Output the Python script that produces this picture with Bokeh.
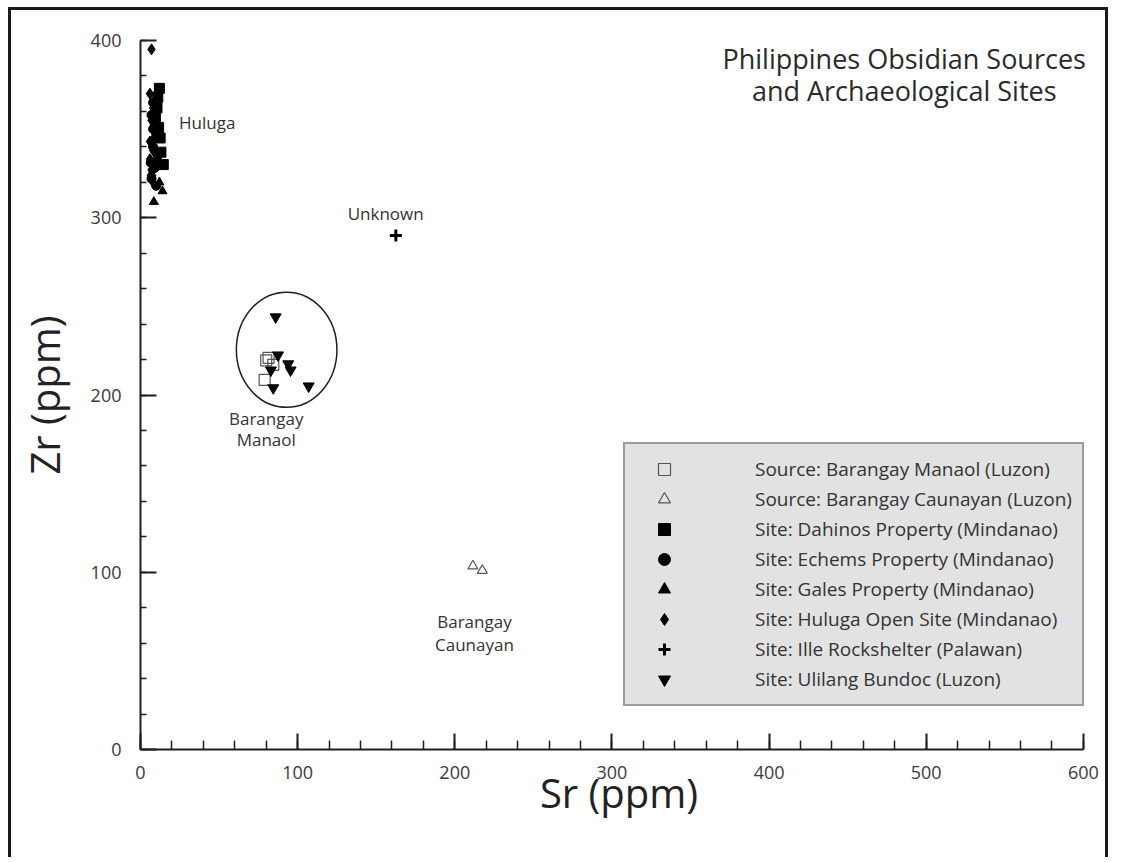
from bokeh.plotting import figure
from bokeh.models import Legend, LegendItem, SingleIntervalTicker, ColumnDataSource, Label
from bokeh.core.properties import value
from bokeh.embed import file_html
from bokeh.resources import INLINE

FONT = "Open Sans"

# ---- data (Sr ppm, Zr ppm) ----
manaol_src_x = [80, 81.5, 84.5, 79]
manaol_src_y = [219.5, 221, 217, 208.5]

caunayan_src_x = [211.5, 217.5]
caunayan_src_y = [103.5, 101]

dahinos_x = [12, 11, 9.5, 13, 14.5, 12.5, 10.5, 11.5]
dahinos_y = [373, 368, 357, 337, 330, 345, 362, 351]

echems_x = [8, 7, 9, 10, 8, 11, 9, 7, 10, 8, 6.5]
echems_y = [365, 358, 352, 346, 340, 335, 328, 322, 318, 350, 331]

gales_x = [14, 8.5, 12, 7]
gales_y = [315, 309, 320, 325]

huluga_x = [7, 6, 8, 7, 9, 6, 8, 10, 7, 8, 9, 6, 9.5]
huluga_y = [395, 370, 362, 355, 348, 343, 338, 332, 327, 320, 345, 333, 359]

ille_x = [162.5]
ille_y = [290]

ulilang_x = [86, 87.5, 94, 95.5, 83, 84.5, 107]
ulilang_y = [244, 222.5, 217.5, 214, 214, 204, 205]

legend_labels = [
    "Source: Barangay Manaol (Luzon)",
    "Source: Barangay Caunayan (Luzon)",
    "Site: Dahinos Property (Mindanao)",
    "Site: Echems Property (Mindanao)",
    "Site: Gales Property (Mindanao)",
    "Site: Huluga Open Site (Mindanao)",
    "Site: Ille Rockshelter (Palawan)",
    "Site: Ulilang Bundoc (Luzon)",
]

note_text = ["Huluga", "Unknown", "Barangay", "Manaol", "Barangay", "Caunayan"]
note_x = [24.5, 156, 80, 80, 212.5, 212.5]
note_y = [354, 302.5, 187, 175, 72, 59.5]
note_align = ["left", "center", "center", "center", "center", "center"]

title_lines = ["Philippines Obsidian Sources", "and Archaeological Sites"]
title_x = [486, 486]
title_y = [390, 372]

circle_x = [93]
circle_y = [225.5]
circle_w = [64]
circle_h = [65]

x_axis_bounds = (0, 600)
x_ticks_interval = 100
y_ticks_interval = 100

INK = "#1e1e1e"
W, H = 1100, 850

p = figure(width=W, height=H, x_range=(0, 609), y_range=(0, 400),
           output_backend="svg", toolbar_location=None,
           min_border_left=129, min_border_right=14, min_border_top=30,
           min_border_bottom=111,
           styles={"margin-left": "8px", "margin-top": "7px",
                   "border-top": "3px solid #1a1a1a",
                   "border-left": "3px solid #1a1a1a",
                   "border-right": "3px solid #1a1a1a"})
p.grid.visible = False
p.outline_line_color = None
p.background_fill_color = "white"
p.border_fill_color = "white"

p.xaxis.ticker = SingleIntervalTicker(interval=x_ticks_interval, num_minor_ticks=5)
p.yaxis.ticker = SingleIntervalTicker(interval=y_ticks_interval, num_minor_ticks=5)
p.xaxis.bounds = x_axis_bounds
for ax in (p.xaxis, p.yaxis):
    ax.axis_line_color = INK
    ax.axis_line_width = 2
    ax.major_tick_line_color = INK
    ax.minor_tick_line_color = INK
    ax.major_tick_line_width = 2
    ax.minor_tick_line_width = 1.5
    ax.major_tick_in = 16
    ax.major_tick_out = 0
    ax.minor_tick_out = 0
    ax.major_label_text_font = FONT
    ax.major_label_text_font_size = "18px"
    ax.major_label_text_color = "#3a3a3a"
    ax.axis_label_text_font = FONT
    ax.axis_label_text_font_size = "40px"
    ax.axis_label_text_font_style = "normal"
    ax.axis_label_text_color = "#222222"
p.xaxis.major_label_standoff = 16
p.yaxis.major_label_standoff = 19
p.xaxis.minor_tick_in = 9
p.yaxis.minor_tick_in = 6
p.xaxis.axis_label = "Sr (ppm)"
p.yaxis.axis_label = "Zr (ppm)"
p.xaxis.axis_label_standoff = -17
p.yaxis.axis_label_standoff = 16

# enclosing ellipse
p.ellipse(x=circle_x, y=circle_y, width=circle_w, height=circle_h,
          fill_color=None, line_color=INK, line_width=1.5)

r_manaol = p.scatter(manaol_src_x, manaol_src_y, marker="square", size=11,
                     fill_alpha=0, line_color="#555555", line_width=1.2)
r_caun = p.scatter(caunayan_src_x, caunayan_src_y, marker="triangle", size=10,
                   fill_alpha=0, line_color="#555555", line_width=1.2)
r_dah = p.scatter(dahinos_x, dahinos_y, marker="square", size=10,
                  fill_color="black", line_color="black")
r_ech = p.scatter(echems_x, echems_y, marker="circle", size=9,
                  fill_color="black", line_color="black")
r_gal = p.scatter(gales_x, gales_y, marker="triangle", size=9,
                  fill_color="black", line_color="black")
r_hul = p.scatter(huluga_x, huluga_y, marker="diamond", size=11,
                  fill_color="black", line_color="black")
r_ille = p.scatter(ille_x, ille_y, marker="cross", size=12,
                   line_color="black", line_width=3)
r_uli = p.scatter(ulilang_x, ulilang_y, marker="inverted_triangle", size=11,
                  fill_color="black", line_color="black")

renderers = [r_manaol, r_caun, r_dah, r_ech, r_gal, r_hul, r_ille, r_uli]
items = [LegendItem(label=lab, renderers=[r]) for lab, r in zip(legend_labels, renderers)]
legend = Legend(items=items, location=(483, 43))
legend.label_text_font = FONT
legend.label_text_font_size = "19px"
legend.label_text_color = "#333333"
legend.glyph_width = 58
legend.glyph_height = 30
legend.label_height = 30
legend.spacing = 0
legend.padding = 10
legend.margin = 0
legend.label_standoff = 62
legend.background_fill_color = "#e2e2e2"
legend.background_fill_alpha = 1
legend.border_line_color = "#555555"
legend.border_line_width = 2
p.add_layout(legend, "center")

notes = ColumnDataSource(dict(text=note_text, x=note_x, y=note_y, align=note_align))
p.text(x="x", y="y", text="text", source=notes, text_align="align",
       text_baseline="middle", text_font=value(FONT), text_font_size="17px",
       text_color="#333333")

for t, tx, ty in zip(title_lines, title_x, title_y):
    p.add_layout(Label(x=tx, y=ty, text=t, text_align="center",
                       text_baseline="middle", text_font=FONT,
                       text_font_size="27px", text_color="#2a2a2a"))

open("out.html", "w").write(file_html(p, INLINE))
